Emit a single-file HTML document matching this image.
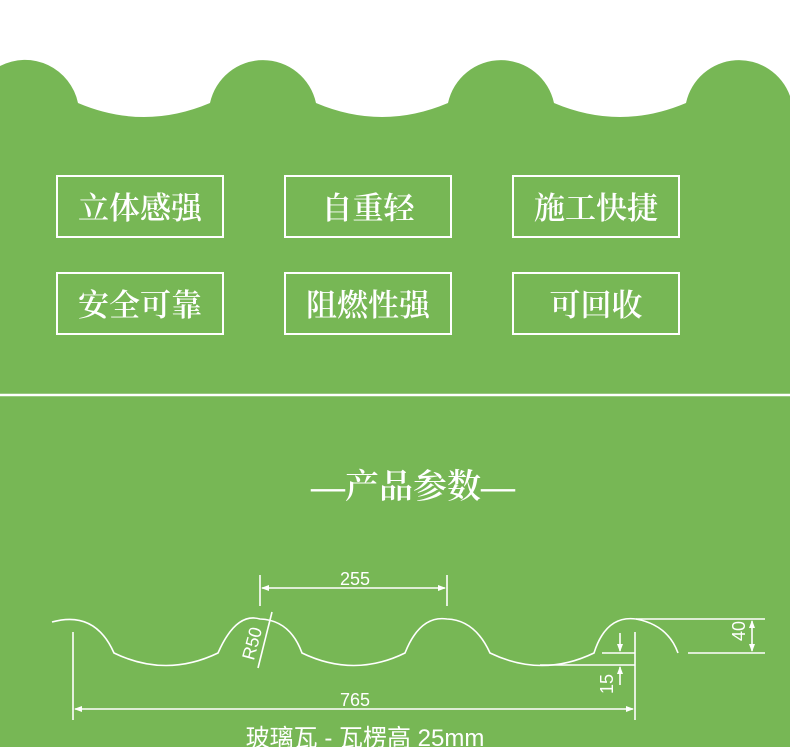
<!DOCTYPE html>
<html><head><meta charset="utf-8"><style>
html,body{margin:0;padding:0;width:790px;height:747px;overflow:hidden;background:#fff}
svg{display:block}
.cn{font-family:"Liberation Serif","Noto Serif CJK SC",serif;fill:#fff;font-weight:600}
.sn{font-family:"Liberation Sans","Noto Sans CJK SC",sans-serif;fill:#fff}
</style></head><body>
<svg width="790" height="747" viewBox="0 0 790 747" xmlns="http://www.w3.org/2000/svg">
<path fill="#77b755" d="M0,747 L0,66 A54.2,54.2 0 0 1 78,103 Q144,131 210,103 A54.2,54.2 0 0 1 316,103 Q382,131 448,103 A54.2,54.2 0 0 1 554,103 Q620,131 686,103 A54.2,54.2 0 0 1 790,96 L790,747 Z"/>
<line x1="0" y1="395" x2="790" y2="395" stroke="#fff" stroke-width="2.5"/>
<g fill="none" stroke="#fff" stroke-width="2">
<rect x="57" y="176" width="166" height="61"/>
<rect x="285" y="176" width="166" height="61"/>
<rect x="513" y="176" width="166" height="61"/>
<rect x="57" y="273" width="166" height="61"/>
<rect x="285" y="273" width="166" height="61"/>
<rect x="513" y="273" width="166" height="61"/>
</g>
<g class="cn" font-size="31" text-anchor="middle">
<text x="140" y="219">立体感强</text>
<text x="368" y="219">自重轻</text>
<text x="596" y="219">施工快捷</text>
<text x="140" y="316">安全可靠</text>
<text x="368" y="316">阻燃性强</text>
<text x="596" y="316">可回收</text>
<text x="413" y="498" font-size="34">—产品参数—</text>
</g>
<g fill="none" stroke="#fff" stroke-width="1.6">
<path d="M52,622 Q95,610 114,653 Q166,678 218,653 Q236,612 260,619 Q290,620 302,653 Q354,678 405,653 Q420,615 447,619 Q475,620 490,653 Q542,678 594,653 Q606,615 636,619 Q668,625 678,653"/>
<line x1="260" y1="575" x2="260" y2="606"/><line x1="447" y1="575" x2="447" y2="606"/>
<line x1="262" y1="588" x2="445" y2="588"/>
<line x1="73" y1="632" x2="73" y2="720"/><line x1="635" y1="632" x2="635" y2="720"/>
<line x1="75" y1="709" x2="633" y2="709"/>
<line x1="636" y1="619" x2="765" y2="619"/><line x1="688" y1="653" x2="765" y2="653"/>
<line x1="752" y1="621" x2="752" y2="651"/>
<line x1="602" y1="653" x2="635" y2="653"/><line x1="540" y1="665" x2="635" y2="665"/>
<line x1="620" y1="633" x2="620" y2="651"/><line x1="620" y1="667" x2="620" y2="685"/>
<line x1="272" y1="612" x2="258" y2="668"/>
</g>
<g fill="#fff">
<path d="M261,588 l8,-3 v6z"/><path d="M446,588 l-8,-3 v6z"/>
<path d="M74,709 l8,-3 v6z"/><path d="M634,709 l-8,-3 v6z"/>
<path d="M752,620 l-3,8 h6z"/><path d="M752,652 l-3,-8 h6z"/>
<path d="M620,652 l-3,-8 h6z"/><path d="M620,666 l-3,8 h6z"/>
</g>
<g class="sn" font-size="18" text-anchor="middle">
<text x="355" y="585">255</text>
<text x="355" y="706">765</text>
<text transform="translate(745,631) rotate(-90)">40</text>
<text transform="translate(613,684) rotate(-90)">15</text>
<text transform="translate(258,645) rotate(-75)">R50</text>
<text x="365" y="746" font-size="24">玻璃瓦 - 瓦楞高 25mm</text>
</g>
</svg>
</body></html>
